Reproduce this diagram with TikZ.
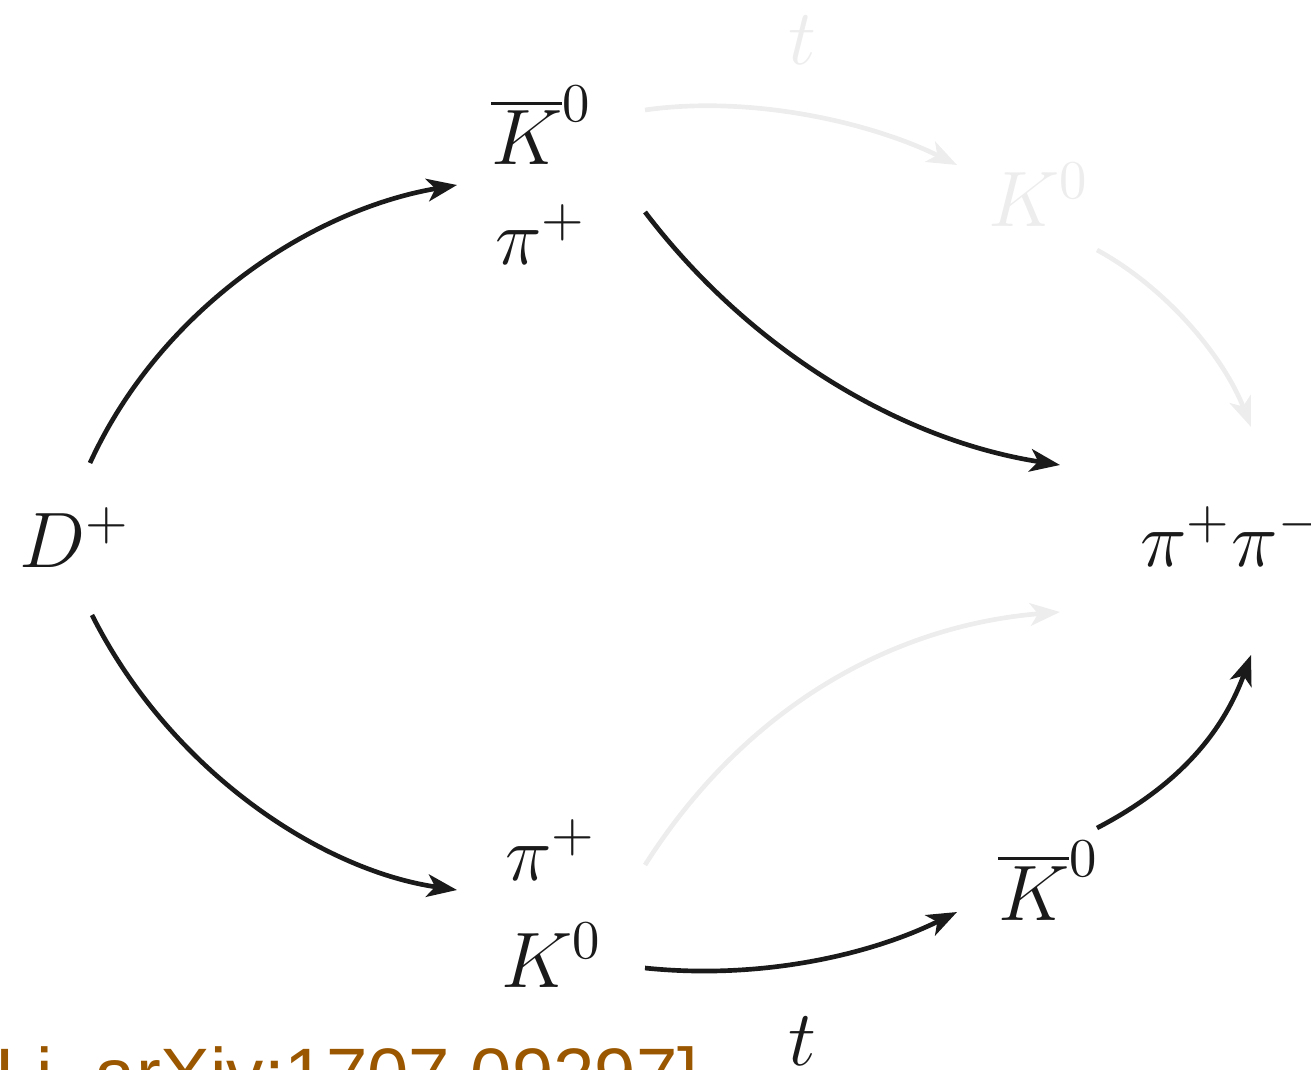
\RequirePackage{fix-cm}
\documentclass[tikz,border=0pt]{standalone}
\usepackage{fontspec}
\usetikzlibrary{arrows.meta}
\newfontfamily\refsans{Liberation Sans}
\definecolor{ink}{HTML}{1A1A1A}
\definecolor{faint}{HTML}{EDEDED}
\definecolor{cite}{HTML}{9A5700}
\begin{document}
\begin{tikzpicture}[x=0.3pt,y=-0.3pt,
  lbl/.style={inner sep=0pt,anchor=base west,font=\fontsize{14.4}{17}\selectfont,scale=1.64,text=ink},
  fadelbl/.style={lbl,text=faint},
  arr/.style={draw=ink,line width=1.4pt,-{Stealth[length=9pt,width=6.8pt,inset=2.4pt]}},
  fadearr/.style={arr,draw=faint}]
\useasboundingbox (0,0) rectangle (1311,1070);
\clip (0,0) rectangle (1311,1070);
% labels
\node[fadelbl] (ttop) at (787,65) {$t$};
\node[lbl] (Kbt) at (490,165) {$\overline{K}^0$};
\node[lbl] (pit) at (494,265) {$\pi^+$};
\node[fadelbl] (K0t) at (987,227) {$K^0$};
\node[lbl] (Dp) at (18,568) {$D^+$};
\node[lbl] (fin) at (1139,567) {$\pi^+\pi^-$};
\node[lbl] (pib) at (504,880) {$\pi^+$};
\node[lbl] (K0b) at (500,987) {$K^0$};
\node[lbl] (Kbb) at (997,920) {$\overline{K}^0$};
\node[lbl] (tbot) at (787,1065) {$t$};
\node[inner sep=0pt,anchor=base west,font=\refsans\fontsize{22.3}{26}\selectfont,text=cite] (ref) at (-5,1100) {Li, arXiv:1707.09297]};
% connector end points
\coordinate (a1) at (90,463); \coordinate (b1) at (457,185);
\coordinate (a2) at (645,212); \coordinate (b2) at (1060,465);
\coordinate (a3) at (92,615); \coordinate (b3) at (457,890);
\coordinate (a4) at (645,968); \coordinate (b4) at (957,912);
\coordinate (a5) at (1097,828); \coordinate (b5) at (1251,655);
\coordinate (a6) at (645,110); \coordinate (b6) at (957,165);
\coordinate (a7) at (1097,250); \coordinate (b7) at (1251,427);
\coordinate (a8) at (645,865); \coordinate (b8) at (1060,612);
% faint arrows
\draw[fadearr] (a6) .. controls (750,95) and (870,122) .. (b6);
\draw[fadearr] (a7) .. controls (1170,290) and (1225,360) .. (b7);
\draw[fadearr] (a8) .. controls (750,700) and (900,625) .. (b8);
% black arrows
\draw[arr] (a1) .. controls (160,310) and (310,210) .. (b1);
\draw[arr] (a2) .. controls (750,350) and (900,440) .. (b2);
\draw[arr] (a3) .. controls (170,770) and (320,870) .. (b3);
\draw[arr] (a4) .. controls (760,980) and (870,955) .. (b4);
\draw[arr] (a5) .. controls (1170,790) and (1220,740) .. (b5);
\end{tikzpicture}
\end{document}
